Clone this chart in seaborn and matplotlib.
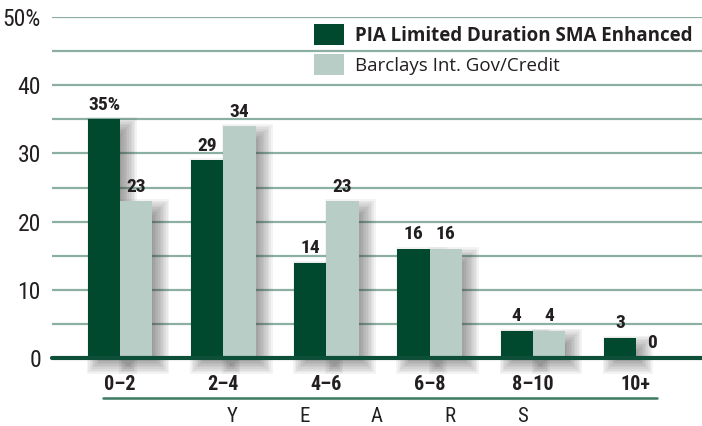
import matplotlib
matplotlib.use("Agg")
import matplotlib.pyplot as plt
import matplotlib.transforms as mtrans
from matplotlib.patches import Rectangle
from matplotlib.lines import Line2D
from matplotlib import font_manager
import seaborn as sns
import pandas as pd

# ---- data ----
categories = ["0–2", "2–4", "4–6", "6–8", "8–10", "10+"]
series_names = ["PIA Limited Duration SMA Enhanced", "Barclays Int. Gov/Credit"]
pia_values = [35, 29, 14, 16, 4, 3]
barclays_values = [23, 34, 23, 16, 4, 0]
ytick_values = [0, 10, 20, 30, 40, 50]
ytick_labels = ["0", "10", "20", "30", "40", "50%"]
axis_word = "YEARS"

DARK = "#00492f"
LIGHT = "#b8cdc5"
GRID = "#8bb0a2"
ZERO = "#0d4f38"
TXT = "#231f20"

sns.set_theme(style="white")
installed = {f.name for f in font_manager.fontManager.ttflist}
narrow_pref = ["Liberation Sans Narrow", "Roboto Condensed", "Open Sans Condensed",
               "Noto Sans", "Lato", "DejaVu Sans"]
NARROW = [f for f in narrow_pref if f in installed] + ["DejaVu Sans"]
LEG = [f for f in ["Open Sans", "Noto Sans", "Lato"] if f in installed] + ["DejaVu Sans"]
plt.rcParams["font.family"] = NARROW
plt.rcParams["font.stretch"] = "condensed"

df = pd.DataFrame({
    "cat": categories * 2,
    "series": [series_names[0]] * len(categories) + [series_names[1]] * len(categories),
    "value": pia_values + barclays_values,
})

fig = plt.figure(figsize=(7.02, 4.26), dpi=100)
W, H = 702, 426
ax = fig.add_axes([52 / W, 1 - 358 / H, 650 / W, 341 / H])

sns.barplot(data=df, x="cat", y="value", hue="series", order=categories,
            hue_order=series_names, palette=[DARK, LIGHT], saturation=1,
            width=0.625, gap=0, ax=ax, legend=True, zorder=3,
            linewidth=0, edgecolor="none")

ax.set_xlim(-0.66, 5.64)
ax.set_ylim(0, 50)

# grid lines every 5
ax.set_yticks(ytick_values)
ax.set_yticklabels(ytick_labels, fontsize=17, color=TXT)
ax.set_yticks(list(range(5, 50, 10)), minor=True)
ax.grid(axis="y", which="both", color=GRID, lw=1.6, zorder=0)
ax.set_axisbelow(True)
ax.tick_params(axis="y", length=0, pad=8)
ax.tick_params(axis="x", length=0, pad=12, labelsize=14.5)
for t in ax.get_xticklabels():
    t.set_fontweight("bold")
    t.set_color(TXT)
for s in ax.spines.values():
    s.set_visible(False)
ax.set_xlabel("")
ax.set_ylabel("")

# zero line
ax.axhline(0, color=ZERO, lw=3, zorder=5, clip_on=False)

# soft drop shadows behind bars
fig.canvas.draw()
px_per_x = ax.bbox.width / (ax.get_xlim()[1] - ax.get_xlim()[0])
px_per_y = ax.bbox.height / (ax.get_ylim()[1] - ax.get_ylim()[0])
n_layers = 12
blur = 9.0
off = mtrans.ScaledTranslation(8 / 100, -7 / 100, fig.dpi_scale_trans)
for cont in ax.containers:
    for bar in cont:
        h = bar.get_height()
        if h <= 0:
            continue
        x0, w = bar.get_x(), bar.get_width()
        for i in range(n_layers):
            e = blur * (1 - 2 * i / (n_layers - 1))
            ex = e / px_per_x
            ey = e / px_per_y
            r = Rectangle((x0 - ex, -ey), w + 2 * ex, h + 2 * ey,
                          transform=ax.transData + off, facecolor="#3a3a3a",
                          edgecolor="none", alpha=0.06, zorder=2, clip_on=False)
            ax.add_patch(r)

# bar labels
for ci, cont in enumerate(ax.containers):
    vals = pia_values if ci == 0 else barclays_values
    labels = [str(v) for v in vals]
    if ci == 0:
        labels[0] = f"{vals[0]}%"
    ax.bar_label(cont, labels=labels, padding=4, fontsize=14, fontweight="bold",
                 color=TXT)

# legend
handles, labs = ax.get_legend_handles_labels()
leg = ax.legend(handles[:2], labs[:2], loc="upper left",
                bbox_to_anchor=(314 / W, 1 - 24 / H), bbox_transform=fig.transFigure,
                frameon=False, borderpad=0, borderaxespad=0,
                handlelength=1.6, handleheight=1.35, handletextpad=0.6,
                labelspacing=0.45,
                prop={"family": LEG, "size": 13.5, "stretch": "normal"})
leg.get_texts()[0].set_fontweight("bold")
for t in leg.get_texts():
    t.set_color(TXT)
    t.set_fontstretch("normal")

# underline below category labels and the spaced axis word
fig.add_artist(Line2D([103 / W, 657 / W], [1 - 398 / H, 1 - 398 / H],
                      transform=fig.transFigure, color="#3d7a62", lw=1.8))
n = len(axis_word)
for i, ch in enumerate(axis_word):
    xp = 232 + i * (522 - 232) / (n - 1)
    fig.text(xp / W, 1 - 417 / H, ch, ha="center", va="center", fontsize=15,
             color=TXT)

fig.savefig("out.png", dpi=100)
